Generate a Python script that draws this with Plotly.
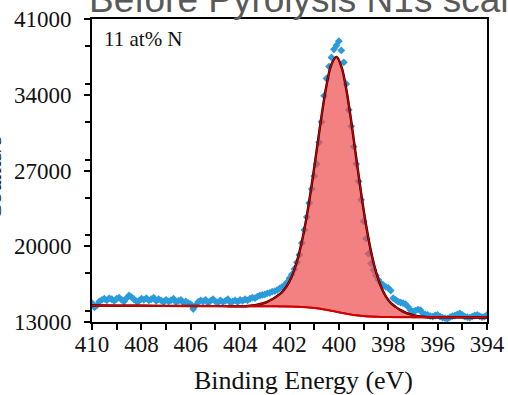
import plotly.graph_objects as go

# ---------------- data ----------------
energy = [
    410.0,
    409.9, 409.8, 409.7, 409.6, 409.5, 409.4, 409.3, 409.2, 409.1, 409.0,
    408.9, 408.8, 408.7, 408.6, 408.5, 408.4, 408.3, 408.2, 408.1, 408.0,
    407.9, 407.8, 407.7, 407.6, 407.5, 407.4, 407.3, 407.2, 407.1, 407.0,
    406.9, 406.8, 406.7, 406.6, 406.5, 406.4, 406.3, 406.2, 406.1, 406.0,
    405.9, 405.8, 405.7, 405.6, 405.5, 405.4, 405.3, 405.2, 405.1, 405.0,
    404.9, 404.8, 404.7, 404.6, 404.5, 404.4, 404.3, 404.2, 404.1, 404.0,
    403.9, 403.8, 403.7, 403.6, 403.5, 403.4, 403.3, 403.2, 403.1, 403.0,
    402.9, 402.8, 402.7, 402.6, 402.5, 402.4, 402.3, 402.2, 402.1, 402.0,
    401.9, 401.8, 401.7, 401.6, 401.5, 401.4, 401.3, 401.2, 401.1, 401.0,
    400.9, 400.8, 400.7, 400.6, 400.5, 400.4, 400.3, 400.2, 400.1, 400.0,
    399.9, 399.8, 399.7, 399.6, 399.5, 399.4, 399.3, 399.2, 399.1, 399.0,
    398.9, 398.8, 398.7, 398.6, 398.5, 398.4, 398.3, 398.2, 398.1, 398.0,
    397.9, 397.8, 397.7, 397.6, 397.5, 397.4, 397.3, 397.2, 397.1, 397.0,
    396.9, 396.8, 396.7, 396.6, 396.5, 396.4, 396.3, 396.2, 396.1, 396.0,
    395.9, 395.8, 395.7, 395.6, 395.5, 395.4, 395.3, 395.2, 395.1, 395.0,
    394.9, 394.8, 394.7, 394.6, 394.5, 394.4, 394.3, 394.2, 394.1, 394.0,
]
counts = [
    14750,
    14350, 14550, 14900, 15050, 15150, 15000, 15200, 15100, 14950, 15150,
    15250, 15050, 14900, 15200, 15450, 15300, 15100, 14900, 14950, 15150,
    15050, 15200, 15000, 15100, 15250, 14950, 15100, 15000, 14850, 15050,
    14900, 15000, 15150, 14850, 14950, 15050, 14800, 14900, 14750, 14650,
    14200, 14550, 14850, 15000, 14900, 15050, 14800, 14950, 15100, 14900,
    14800, 15000, 14850, 14950, 15100, 14800, 14900, 15000, 14850, 15050,
    14950, 15100, 15000, 15150, 15250, 15200, 15350, 15450, 15500, 15550,
    15650, 15700, 15800, 15850, 15950, 16100, 16250, 16400, 16650, 17050,
    17400, 17900, 18500, 19200, 20300, 21500, 22700, 24000, 25300, 26500,
    27600, 29600, 31500, 33900, 35500, 36600, 37450, 38200, 38550, 38950,
    38100, 37000, 35000, 32600, 31100, 29200, 27600, 26000, 24300, 22300,
    20700, 19300, 18400, 17800, 17300, 16900, 16600, 16400, 16250, 16150,
    15900, 15200, 15050, 14880, 14800, 14750, 14650, 14400, 14100, 13950,
    14050, 14150, 14100, 13800, 13700, 13650, 13550, 13500, 13600, 13650,
    13500, 13400, 13350, 13300, 13450, 13550, 13600, 13700, 13800, 13650,
    13500, 13450, 13400, 13500, 13600, 13650, 13550, 13450, 13500, 13650,
]

fit_energy = [
    410.0, 409.0, 408.0, 407.0, 406.0, 405.0, 404.5, 404.1,
    403.9, 403.7, 403.5, 403.3, 403.1, 402.9, 402.7, 402.5, 402.3, 402.1,
    401.9, 401.7, 401.5, 401.3, 401.1, 400.9, 400.7, 400.5, 400.3, 400.1,
    399.9, 399.7, 399.5, 399.3, 399.1, 398.9, 398.7, 398.5, 398.3, 398.1,
    397.9, 397.7, 397.5, 397.3, 397.1, 396.9, 396.7, 396.5, 396.3,
    395.9, 395.5, 395.0, 394.0,
]
background = [
    14520, 14510, 14500, 14490, 14480, 14470, 14462, 14455,
    14452, 14452, 14452, 14451, 14450, 14449, 14447, 14444, 14439, 14433,
    14423, 14409, 14389, 14360, 14320, 14268, 14203, 14126, 14039, 13946,
    13853, 13766, 13689, 13624, 13572, 13532, 13503, 13483, 13469, 13459,
    13453, 13448, 13445, 13443, 13442, 13441, 13440, 13440, 13440,
    13438, 13435, 13430, 13420,
]
component = [
    0, 0, 0, 0, 0, 0, 0, 0,
    0, 20, 70, 150, 260, 420, 650, 950, 1320, 1920,
    2840, 4180, 6040, 8450, 11360, 14600, 17870, 20750, 22770, 23550,
    22770, 20750, 17870, 14600, 11360, 8450, 6040, 4180, 2840, 1920,
    1320, 950, 650, 420, 260, 150, 70, 20, 0,
    0, 0, 0, 0,
]
envelope = [b + c for b, c in zip(background, component)]

chart_title = "Before Pyrolysis N1s scan"
inset_label = "11 at% N"
x_title = "Binding Energy (eV)"
y_title = "Counts/s"

# ---------------- figure ----------------
W, H = 508, 395
L, R, T, B = 92, 21, 19, 73
PW, PH = W - L - R, H - T - B

fig = go.Figure()
fig.add_trace(go.Scatter(
    x=energy, y=counts, mode="markers",
    marker=dict(symbol="diamond", size=6, color="#2b9bdb"),
))
fig.add_trace(go.Scatter(
    x=fit_energy, y=background, mode="lines",
    line=dict(color="#d00000", width=2, shape="spline"),
))
fig.add_trace(go.Scatter(
    x=fit_energy, y=envelope, mode="lines", fill="tonexty",
    fillcolor="rgba(240,80,80,0.72)",
    line=dict(color="#1a0000", width=2.4, shape="spline"),
))
fig.add_trace(go.Scatter(
    x=fit_energy, y=envelope, mode="lines",
    line=dict(color="#c40000", width=1.4, shape="spline"),
))
fig.add_trace(go.Scatter(
    x=fit_energy, y=background, mode="lines",
    line=dict(color="#d00000", width=1.8, shape="spline"),
))

serif = "Liberation Serif, Times New Roman, serif"
fig.update_layout(
    width=W, height=H,
    margin=dict(l=L, r=R, t=T, b=B, pad=0, autoexpand=False),
    paper_bgcolor="white", plot_bgcolor="white",
    showlegend=False,
    font=dict(family=serif, color="#111111"),
)
axis_common = dict(
    ticks="outside", ticklen=6, tickwidth=1.6, tickcolor="black",
    showline=True, linecolor="black", linewidth=2, mirror=True,
    showgrid=False, zeroline=False, automargin=False,
    tickfont=dict(family=serif, size=23, color="#111111"),
)
fig.update_xaxes(
    range=[410, 394], tickmode="linear", tick0=394, dtick=2,
    minor=dict(dtick=1, ticks="outside", ticklen=6, tickwidth=1.6,
               tickcolor="black", showgrid=False),
    ticklabelstandoff=-6,
    **axis_common,
)
fig.update_yaxes(
    range=[13000, 41000], tickmode="linear", tick0=13000, dtick=7000,
    tickformat="d",
    minor=dict(dtick=3500, ticks="outside", ticklen=5, tickwidth=1.6,
               tickcolor="black", showgrid=False),
    ticklabelstandoff=8,
    **axis_common,
)

fig.add_annotation(
    text=chart_title, xref="paper", yref="paper",
    x=(87 - L) / PW, y=1, xanchor="left", yanchor="bottom", yshift=-3,
    showarrow=False,
    font=dict(family="Liberation Sans, Arial, sans-serif", size=37, color="#595959"),
)
fig.add_annotation(
    text=inset_label, xref="paper", yref="paper",
    x=(102 - L) / PW, y=1, xanchor="left", yanchor="top", yshift=-6,
    showarrow=False, font=dict(family=serif, size=21, color="#111111"),
)
fig.add_annotation(
    text=x_title, xref="paper", yref="paper",
    x=(303 - L) / PW, y=-(380 - (T + PH)) / PH, xanchor="center", yanchor="middle",
    showarrow=False, font=dict(family=serif, size=26, color="#111111"),
)
fig.add_annotation(
    text=y_title, xref="paper", yref="paper", textangle=-90,
    x=0, y=(T + PH - 178) / PH, xanchor="right", yanchor="middle", xshift=8 - L,
    showarrow=False, font=dict(family=serif, size=24, color="#111111"),
)

fig.write_html("out.html")
